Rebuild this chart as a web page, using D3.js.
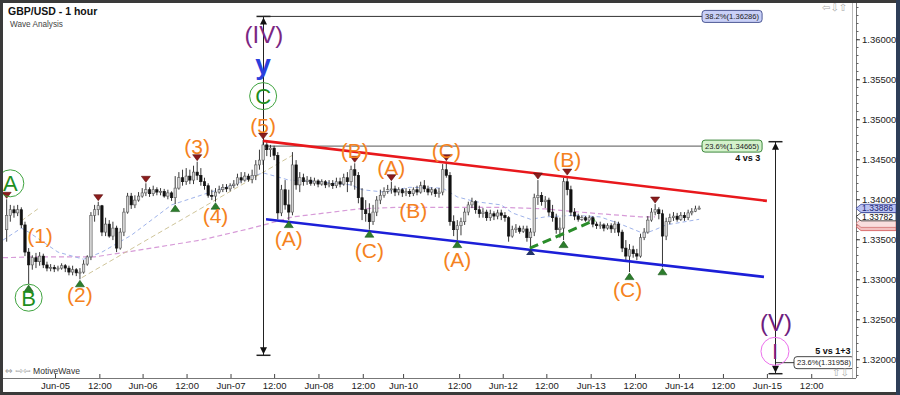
<!DOCTYPE html>
<html><head><meta charset="utf-8">
<script src="https://cdn.jsdelivr.net/npm/d3@7"></script>
<style>body{margin:0;background:#fff;overflow:hidden}svg{display:block;font-family:"Liberation Sans",Arial,sans-serif}</style>
</head><body><svg id="c" width="900" height="395"></svg>
<script>
// ---- data: hourly GBP/USD bars 1..190 ----
const opens = [1.3362,1.3380,1.3387,1.3383,1.3387,1.3368,1.3334,1.3318,1.3327,1.3322,
1.3329,1.3318,1.3314,1.3315,1.3313,1.3314,1.3317,1.3314,1.3309,1.3312,
1.3308,1.3309,1.3319,1.3328,1.3380,1.3387,1.3392,1.3359,1.3369,1.3354,
1.3364,1.3339,1.3359,1.3384,1.3404,1.3393,1.3399,1.3404,1.3408,1.3412,
1.3407,1.3412,1.3409,1.3410,1.3404,1.3408,1.3402,1.3414,1.3427,1.3422,
1.3429,1.3424,1.3434,1.3430,1.3422,1.3417,1.3405,1.3404,1.3409,1.3412,
1.3415,1.3413,1.3417,1.3419,1.3427,1.3424,1.3429,1.3425,1.3430,1.3443,
1.3449,1.3468,1.3462,1.3464,1.3455,1.3383,1.3412,1.3393,1.3384,1.3443,
1.3418,1.3427,1.3422,1.3424,1.3420,1.3423,1.3419,1.3422,1.3418,1.3420,
1.3417,1.3422,1.3419,1.3427,1.3422,1.3437,1.3430,1.3402,1.3387,1.3382,
1.3372,1.3384,1.3399,1.3405,1.3410,1.3412,1.3413,1.3409,1.3412,1.3408,
1.3410,1.3407,1.3412,1.3409,1.3417,1.3413,1.3409,1.3412,1.3407,1.3409,
1.3437,1.3430,1.3372,1.3362,1.3367,1.3372,1.3384,1.3393,1.3397,1.3387,
1.3382,1.3384,1.3377,1.3382,1.3379,1.3383,1.3380,1.3377,1.3354,1.3362,
1.3364,1.3360,1.3363,1.3352,1.3359,1.3402,1.3405,1.3397,1.3399,1.3384,
1.3377,1.3362,1.3364,1.3422,1.3412,1.3384,1.3379,1.3375,1.3377,1.3374,
1.3377,1.3369,1.3367,1.3368,1.3364,1.3367,1.3363,1.3369,1.3359,1.3339,
1.3329,1.3337,1.3332,1.3329,1.3352,1.3359,1.3374,1.3384,1.3387,1.3382,
1.3354,1.3372,1.3377,1.3379,1.3375,1.3380,1.3377,1.3383,1.3385,1.3388];
const highs = [1.3400,1.3393,1.3392,1.3393,1.3390,1.3372,1.3339,1.3330,1.3333,1.3334,
1.3332,1.3322,1.3319,1.3318,1.3317,1.3320,1.3319,1.3317,1.3317,1.3314,
1.3314,1.3324,1.3330,1.3384,1.3393,1.3397,1.3393,1.3377,1.3374,1.3372,
1.3367,1.3364,1.3389,1.3408,1.3408,1.3405,1.3409,1.3414,1.3420,1.3415,
1.3417,1.3415,1.3414,1.3413,1.3412,1.3410,1.3429,1.3434,1.3437,1.3439,
1.3437,1.3442,1.3447,1.3439,1.3427,1.3420,1.3412,1.3414,1.3417,1.3419,
1.3419,1.3420,1.3424,1.3432,1.3434,1.3434,1.3432,1.3437,1.3449,1.3462,
1.3474,1.3472,1.3468,1.3467,1.3459,1.3418,1.3424,1.3412,1.3459,1.3449,
1.3434,1.3432,1.3429,1.3428,1.3427,1.3425,1.3425,1.3424,1.3424,1.3424,
1.3427,1.3427,1.3432,1.3434,1.3442,1.3445,1.3434,1.3414,1.3399,1.3395,
1.3393,1.3404,1.3412,1.3415,1.3418,1.3422,1.3417,1.3415,1.3414,1.3414,
1.3413,1.3415,1.3417,1.3422,1.3424,1.3417,1.3415,1.3414,1.3414,1.3444,
1.3447,1.3434,1.3380,1.3374,1.3377,1.3389,1.3397,1.3402,1.3399,1.3392,
1.3389,1.3387,1.3387,1.3385,1.3387,1.3387,1.3384,1.3379,1.3367,1.3369,
1.3367,1.3367,1.3367,1.3364,1.3407,1.3424,1.3409,1.3404,1.3402,1.3393,
1.3382,1.3377,1.3427,1.3429,1.3417,1.3389,1.3382,1.3380,1.3379,1.3380,
1.3379,1.3372,1.3372,1.3370,1.3370,1.3370,1.3373,1.3372,1.3362,1.3349,
1.3344,1.3342,1.3338,1.3357,1.3364,1.3379,1.3389,1.3394,1.3390,1.3387,
1.3377,1.3382,1.3384,1.3383,1.3384,1.3384,1.3387,1.3389,1.3392,1.3392];
const lows = [1.3347,1.3372,1.3377,1.3379,1.3364,1.3329,1.3294,1.3312,1.3314,1.3317,
1.3314,1.3310,1.3310,1.3309,1.3310,1.3312,1.3309,1.3305,1.3305,1.3304,
1.3300,1.3307,1.3317,1.3324,1.3372,1.3380,1.3354,1.3354,1.3352,1.3349,
1.3334,1.3337,1.3354,1.3382,1.3388,1.3389,1.3397,1.3402,1.3404,1.3403,
1.3404,1.3405,1.3405,1.3402,1.3400,1.3398,1.3394,1.3412,1.3417,1.3418,
1.3419,1.3419,1.3424,1.3417,1.3412,1.3402,1.3399,1.3397,1.3407,1.3409,
1.3409,1.3410,1.3414,1.3417,1.3420,1.3422,1.3422,1.3420,1.3424,1.3437,
1.3443,1.3454,1.3453,1.3449,1.3375,1.3379,1.3387,1.3374,1.3380,1.3412,
1.3409,1.3417,1.3418,1.3417,1.3417,1.3415,1.3417,1.3414,1.3415,1.3413,
1.3414,1.3415,1.3417,1.3409,1.3417,1.3412,1.3395,1.3374,1.3372,1.3362,
1.3368,1.3379,1.3394,1.3402,1.3407,1.3407,1.3404,1.3405,1.3403,1.3404,
1.3403,1.3404,1.3405,1.3407,1.3409,1.3405,1.3405,1.3403,1.3402,1.3405,
1.3427,1.3367,1.3354,1.3349,1.3355,1.3368,1.3380,1.3389,1.3382,1.3377,
1.3377,1.3373,1.3373,1.3374,1.3375,1.3374,1.3372,1.3347,1.3352,1.3358,
1.3357,1.3358,1.3347,1.3339,1.3354,1.3393,1.3392,1.3389,1.3379,1.3372,
1.3357,1.3352,1.3349,1.3405,1.3379,1.3374,1.3372,1.3373,1.3372,1.3372,
1.3365,1.3363,1.3363,1.3360,1.3362,1.3358,1.3358,1.3354,1.3334,1.3322,
1.3309,1.3327,1.3324,1.3327,1.3349,1.3357,1.3372,1.3380,1.3375,1.3315,
1.3349,1.3369,1.3373,1.3372,1.3373,1.3373,1.3374,1.3380,1.3384,1.3387];
const closes = [1.3380,1.3387,1.3383,1.3387,1.3368,1.3334,1.3318,1.3327,1.3322,1.3329,
1.3318,1.3314,1.3315,1.3313,1.3314,1.3317,1.3314,1.3309,1.3312,1.3308,
1.3309,1.3319,1.3328,1.3380,1.3387,1.3392,1.3359,1.3369,1.3354,1.3364,
1.3339,1.3359,1.3384,1.3404,1.3393,1.3399,1.3404,1.3408,1.3412,1.3407,
1.3412,1.3409,1.3410,1.3404,1.3408,1.3402,1.3414,1.3427,1.3422,1.3429,
1.3424,1.3434,1.3430,1.3422,1.3417,1.3405,1.3404,1.3409,1.3412,1.3415,
1.3413,1.3417,1.3419,1.3427,1.3424,1.3429,1.3425,1.3430,1.3443,1.3449,
1.3468,1.3462,1.3464,1.3455,1.3383,1.3412,1.3393,1.3384,1.3443,1.3418,
1.3427,1.3422,1.3424,1.3420,1.3423,1.3419,1.3422,1.3418,1.3420,1.3417,
1.3422,1.3419,1.3427,1.3422,1.3437,1.3430,1.3402,1.3387,1.3382,1.3372,
1.3384,1.3399,1.3405,1.3410,1.3412,1.3413,1.3409,1.3412,1.3408,1.3410,
1.3407,1.3412,1.3409,1.3417,1.3413,1.3409,1.3412,1.3407,1.3409,1.3437,
1.3430,1.3372,1.3362,1.3367,1.3372,1.3384,1.3393,1.3397,1.3387,1.3382,
1.3384,1.3377,1.3382,1.3379,1.3383,1.3380,1.3377,1.3354,1.3362,1.3364,
1.3360,1.3363,1.3352,1.3359,1.3402,1.3405,1.3397,1.3399,1.3384,1.3377,
1.3362,1.3364,1.3422,1.3412,1.3384,1.3379,1.3375,1.3377,1.3374,1.3377,
1.3369,1.3367,1.3368,1.3364,1.3367,1.3363,1.3369,1.3359,1.3339,1.3329,
1.3337,1.3332,1.3329,1.3352,1.3359,1.3374,1.3384,1.3387,1.3382,1.3354,
1.3372,1.3377,1.3379,1.3375,1.3380,1.3377,1.3383,1.3385,1.3388,1.3389];

// moving averages (bar, price)
const maFastBars = [0,5,7,15,22,27,35,46,56,63,67,71,75,78,86,95,98,104,111,120,124,129,136,139,144,148,156,163,168,175,178,181,190];
const maFastVals = [1.3349,1.3364,1.3359,1.3334,1.3325,1.3334,1.3355,1.3393,1.3408,1.3418,1.3427,1.3433,1.3428,1.3424,1.3422,1.3418,1.3412,1.3409,1.3415,1.3414,1.3403,1.3397,1.3393,1.3383,1.3375,1.3378,1.3380,1.3378,1.3370,1.3357,1.3362,1.3368,1.3375];
const maSlowBars = [0,8,25,35,54,67,72,79,90,97,108,136,148,160,174,178];
const maSlowVals = [1.3327,1.3328,1.3328,1.3335,1.3349,1.3363,1.3369,1.3378,1.3384,1.3388,1.3390,1.3390,1.3388,1.3383,1.3378,1.3378];

// wave labels
const orangeLabels = ["(1)","(2)","(3)","(4)","(5)","(A)","(B)","(C)","(A)","(B)","(C)","(A)","(B)","(C)"];
const orangeBars   = [10.1,21,53,58,71,78,96,100,106,112,121,124,154,170.5];
const orangeVals   = [1.3352,1.3278,1.3463,1.3377,1.3490,1.3349,1.3458,1.3333,1.3437,1.3384,1.3459,1.3322,1.3447,1.3285];
const circleLabels = ["A","B","C"];
const circleBars   = [2,7,71];
const circleVals   = [1.3420,1.3277,1.3529];

// swing markers
const topMarkers = [1,26,39,53,71,96,106,121,146,154,178];
const bottomMarkers = [7,21,47,58,78,100,124,153,171,180];
const navyMarkers = [144];

// x axis ticks
const xTickBars = [14.2,26.3,38.1,50.1,62.1,74,86.1,98.2,109.2,124.5,136.4,148.3,160.4,172.5,184.5,196.5,208.5,220.6];
const xTickLabels = ["Jun-05","12:00","Jun-06","12:00","Jun-07","12:00","Jun-08","12:00","Jun-10","12:00","Jun-12","12:00","Jun-13","12:00","Jun-14","12:00","Jun-15","12:00"];
const yTickValues = [1.32000,1.32500,1.33000,1.33500,1.34000,1.34500,1.35000,1.35500,1.36000];

// price tags on the axis (the two red ones are hidden behind, no readable text)
const tagValues = [1.3366,1.3370,1.33782,1.33886];
const tagLabels = ["","","1.33782","1.33886"];

// ---- drawing ----
const svg = d3.select("#c");
const x = d3.scaleLinear().domain([0,232]).range([3,853]);
const y = d3.scaleLinear().domain([1.32,1.36]).range([359.3,39.3]);
const L=3, R=852, T=3, B=377;

svg.append("rect").attr("width",900).attr("height",395).attr("fill","#fff");
const defs = svg.append("defs");
defs.append("clipPath").attr("id","pc").append("rect").attr("x",L).attr("y",T).attr("width",R-L).attr("height",B-T);
const g = svg.append("g").attr("clip-path","url(#pc)");

// moving averages
const line = d3.line().x(d=>x(d[0])).y(d=>y(d[1]));
g.append("path").attr("d", line(maSlowBars.map((b,i)=>[b,maSlowVals[i]])))
  .attr("fill","none").attr("stroke","#d79bd8").attr("stroke-width",1.2).attr("stroke-dasharray","5,3");
g.append("path").attr("d", line(maFastBars.map((b,i)=>[b,maFastVals[i]])))
  .attr("fill","none").attr("stroke","#9fb3ea").attr("stroke-width",1).attr("stroke-dasharray","4,3");
// tan trend lines
g.append("path").attr("d", line([[21.5,1.3302],[79,1.3455]])).attr("fill","none").attr("stroke","#cfc59a").attr("stroke-width",1).attr("stroke-dasharray","5,3");
g.append("path").attr("d", line([[5,1.3373],[9.5,1.3388]])).attr("fill","none").attr("stroke","#cfc59a").attr("stroke-width",1).attr("stroke-dasharray","5,3");

// fib horizontal lines
g.append("path").attr("d", line([[71,1.36286],[190.8,1.36286]])).attr("stroke","#333").attr("stroke-width",1).attr("fill","none");
g.append("path").attr("d", line([[71,1.34665],[190.8,1.34665]])).attr("stroke","#555").attr("stroke-width",1).attr("fill","none");
g.append("path").attr("d", line([[210.7,1.31958],[215.9,1.31958]])).attr("stroke","#333").attr("stroke-width",1).attr("fill","none");

// vertical measure lines
function measure(bar, top, bot){
  const xx = Math.round(x(bar))+0.5, y1=y(top), y2=y(bot);
  g.append("line").attr("x1",xx).attr("x2",xx).attr("y1",y1).attr("y2",y2).attr("stroke","#222").attr("stroke-width",1);
  g.append("line").attr("x1",xx-7).attr("x2",xx+7).attr("y1",y1).attr("y2",y1).attr("stroke","#222").attr("stroke-width",1.5);
  g.append("line").attr("x1",xx-7).attr("x2",xx+7).attr("y1",y2).attr("y2",y2).attr("stroke","#222").attr("stroke-width",1.5);
  g.append("path").attr("d",`M${xx},${y1+1}L${xx-3.5},${y1+8}L${xx+3.5},${y1+8}Z`).attr("fill","#111");
  g.append("path").attr("d",`M${xx},${y2-1}L${xx-3.5},${y2-8}L${xx+3.5},${y2-8}Z`).attr("fill","#111");
}
measure(71, 1.36286, 1.3205);
measure(210.7, 1.3472, 1.3182);

// candles
const bars = d3.range(1,191);
const bw = 2.4;
const cg = g.append("g");
bars.forEach((b,i)=>{
  const o=opens[i], h=highs[i], l=lows[i], c=closes[i];
  const xx = x(b);
  const up = c>=o;
  cg.append("line").attr("x1",xx).attr("x2",xx).attr("y1",y(h)).attr("y2",y(l)).attr("stroke","#222").attr("stroke-width",0.9);
  const top=y(Math.max(o,c)), bot=y(Math.min(o,c));
  cg.append("rect").attr("x",xx-bw/2).attr("y",top).attr("width",bw).attr("height",Math.max(1,bot-top))
    .attr("fill", up?"#d6d6d6":"#111").attr("stroke", up?"#555":"#111").attr("stroke-width",0.6);
});

// channel lines
g.append("path").attr("d", line([[71,1.3473],[208.5,1.3398]])).attr("stroke","#e8181c").attr("stroke-width",2.6).attr("fill","none");
g.append("path").attr("d", line([[71.8,1.3375],[207.7,1.3303]])).attr("stroke","#1c1fd8").attr("stroke-width",2.6).attr("fill","none");
g.append("path").attr("d", line([[143.8,1.3339],[161.6,1.3374]])).attr("stroke","#2a8c2a").attr("stroke-width",3).attr("fill","none").attr("stroke-dasharray","9,5");

// markers
topMarkers.forEach(b=>{
  const xx=x(b), yy=y(highs[b-1])-1;
  g.append("path").attr("d",`M${xx},${yy}L${xx-4.5},${yy-6}L${xx+4.5},${yy-6}Z`).attr("fill","#8c1c1c").attr("stroke","#5a0f0f").attr("stroke-width",0.6);
});
bottomMarkers.forEach(b=>{
  const xx=x(b), yy=y(lows[b-1])+1;
  g.append("path").attr("d",`M${xx},${yy}L${xx-4.5},${yy+6.5}L${xx+4.5},${yy+6.5}Z`).attr("fill","#2c7d2c").attr("stroke","#1b5a1b").attr("stroke-width",0.6);
});
navyMarkers.forEach(b=>{
  const xx=x(b), yy=y(lows[b-1])+1;
  g.append("path").attr("d",`M${xx},${yy}L${xx-4.5},${yy+6}L${xx+4.5},${yy+6}Z`).attr("fill","#23336a");
});

// wave labels
orangeLabels.forEach((t,i)=>{
  g.append("text").attr("x",x(orangeBars[i])).attr("y",y(orangeVals[i])).attr("dy","0.26em")
    .attr("text-anchor","middle").attr("font-size",21).attr("fill","#f58220").text(t);
});
circleLabels.forEach((t,i)=>{
  const cx=x(circleBars[i]), cy=y(circleVals[i]);
  g.append("circle").attr("cx",cx).attr("cy",cy).attr("r",13.5).attr("fill","none").attr("stroke","#3fa43f").attr("stroke-width",1);
  g.append("text").attr("x",cx).attr("y",cy).attr("dy","0.36em").attr("text-anchor","middle").attr("font-size",22).attr("fill","#1e8e1e").text(t);
});
g.append("text").attr("x",x(71.2)).attr("y",y(1.3603)).attr("dy","0.26em").attr("text-anchor","middle").attr("font-size",24).attr("fill","#7b2683").text("(IV)");
g.append("text").attr("x",x(71)).attr("y",y(1.3557)).attr("text-anchor","middle").attr("font-size",28).attr("font-weight","bold").attr("fill","#2a40dc").text("y");
g.append("text").attr("x",x(211)).attr("y",y(1.3243)).attr("dy","0.26em").attr("text-anchor","middle").attr("font-size",24).attr("fill","#6e1d7e").text("(V)");
g.append("circle").attr("cx",x(210.7)).attr("cy",y(1.3210)).attr("r",14).attr("fill","none").attr("stroke","#ec70ec").attr("stroke-width",1);
g.append("text").attr("x",x(210.7)).attr("y",y(1.3210)).attr("dy","0.36em").attr("text-anchor","middle").attr("font-size",22).attr("fill","#7a1a8a").text("I");

// fib label boxes
function fibBox(bar, val, txt, fill, stroke){
  const x0=x(bar), yy=y(val);
  const t = g.append("text").attr("x",x0+3).attr("y",yy).attr("dy","0.35em").attr("font-size",7.6).attr("fill","#222").text(txt);
  const w = t.node().getComputedTextLength();
  g.insert("rect", () => t.node()).attr("x",x0).attr("y",yy-6).attr("width",w+6).attr("height",12).attr("rx",3)
    .attr("fill",fill).attr("stroke",stroke).attr("stroke-width",0.9);
}
fibBox(190.8, 1.36286, "38.2%(1.36286)", "#c9d0f7", "#3d4a8a");
fibBox(190.8, 1.34665, "23.6%(1.34665)", "#d4f2cc", "#2b7d2b");
fibBox(215.9, 1.31958, "23.6%(1.31958)", "#ffffff", "#333");
g.append("text").attr("x",x(203.3)).attr("y",y(1.3452)).attr("dy","0.35em").attr("text-anchor","middle").attr("font-size",9).attr("font-weight","bold").attr("fill","#111").text("4 vs 3");
g.append("text").attr("x",x(226.5)).attr("y",y(1.3210)).attr("dy","0.35em").attr("text-anchor","middle").attr("font-size",9).attr("font-weight","bold").attr("fill","#111").text("5 vs 1+3");

// titles & watermark
svg.append("text").attr("x",8).attr("y",15).attr("font-size",10.5).attr("font-weight","bold").attr("fill","#111").text("GBP/USD - 1 hour");
svg.append("text").attr("x",10).attr("y",27).attr("font-size",8.2).attr("fill","#444").text("Wave Analysis");
svg.append("text").attr("x",5).attr("y",374).attr("font-size",9).attr("font-family","DejaVu Sans").attr("fill","#999").text("⇔ ⇨⇦");
svg.append("text").attr("x",33).attr("y",374).attr("font-size",8.6).attr("fill","#333").text("MotiveWave");
svg.append("text").attr("x",822).attr("y",11).attr("font-size",10).attr("font-family","DejaVu Sans").attr("fill","#aaa").text("⇦⇩⇧");
svg.append("text").attr("x",832).attr("y",376).attr("font-size",10).attr("font-family","DejaVu Sans").attr("fill","#aaa").text("⇧⇩");

// plot frame
svg.append("line").attr("x1",R+0.5).attr("x2",R+0.5).attr("y1",T).attr("y2",B+1).attr("stroke","#bbb");

// y axis
const yAxisX = 856;
const ya = svg.append("g").attr("transform",`translate(${yAxisX},0)`);
ya.append("line").attr("x1",0.5).attr("x2",0.5).attr("y1",T).attr("y2",B+1).attr("stroke","#777");
const minorTicks = d3.range(1.318,1.3645,0.001);
ya.selectAll("line.mt").data(minorTicks).join("line").attr("class","mt").attr("x1",0).attr("x2",2.5)
  .attr("y1",d=>Math.round(y(d))+0.5).attr("y2",d=>Math.round(y(d))+0.5).attr("stroke","#666");
ya.call(d3.axisRight(y).tickValues(yTickValues).tickFormat(d3.format(".5f")).tickSize(4).tickPadding(2))
  .call(s=>s.select(".domain").remove())
  .call(s=>s.selectAll("text").attr("font-size",9.5).attr("fill","#222").attr("font-family","Liberation Sans, Arial, sans-serif"))
  .call(s=>s.selectAll(".tick line").attr("stroke","#444"));

// price tags
const tagStyle = [["#f3c0c0","#d05050","#a03030"],["#f9dede","#d07070","#a04040"],["#ffffff","#222","#111"],["#b9c1f2","#3a46a0","#1a2470"]];
tagValues.forEach((v,i)=>{
  const yy=y(v), h=4.1, st=tagStyle[i];
  svg.append("path").attr("d",`M${yAxisX},${yy}L${yAxisX+5},${yy-h}L896,${yy-h}L896,${yy+h}L${yAxisX+5},${yy+h}Z`)
    .attr("fill",st[0]).attr("stroke",st[1]).attr("stroke-width",0.8);
  if (tagLabels[i]) svg.append("text").attr("x",yAxisX+6).attr("y",yy).attr("dy","0.35em").attr("font-size",8.6).attr("fill",st[2]).text(tagLabels[i]);
});

// x axis
const xa = svg.append("g").attr("transform",`translate(0,${B+1})`);
xa.append("line").attr("x1",L).attr("x2",R+4).attr("y1",0.5).attr("y2",0.5).attr("stroke","#777");
xa.call(d3.axisBottom(x).tickValues(xTickBars).tickFormat((d,i)=>xTickLabels[i]).tickSizeInner(-4).tickSizeOuter(0).tickPadding(4))
  .call(s=>s.select(".domain").remove())
  .call(s=>s.selectAll("text").attr("font-size",9.5).attr("fill","#222").attr("font-family","Liberation Sans, Arial, sans-serif"))
  .call(s=>s.selectAll(".tick line").attr("stroke","#444"));

// outer frame
svg.append("rect").attr("x",1.5).attr("y",1.5).attr("width",897).attr("height",392).attr("fill","none").attr("stroke","#3a3a3a").attr("stroke-width",3);
svg.append("rect").attr("x",896).attr("y",0).attr("width",4).attr("height",395).attr("fill","#2e3e58");
</script></body></html>
